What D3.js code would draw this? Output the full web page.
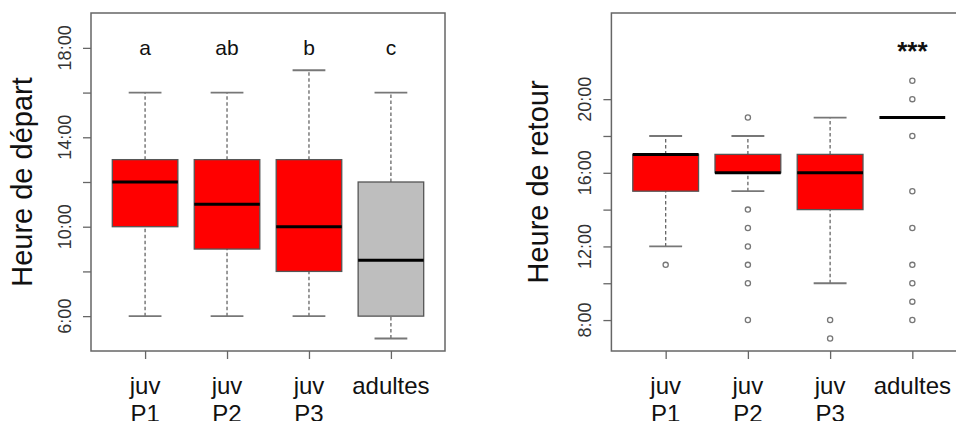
<!DOCTYPE html>
<html><head><meta charset="utf-8">
<script src="https://cdn.jsdelivr.net/npm/d3@7"></script>
<style>body{margin:0;background:#fff}svg{display:block}</style>
</head><body>
<svg id="c" width="956" height="421"></svg>
<script>
// ---- data ----
const categories = ["juv\nP1", "juv\nP2", "juv\nP3", "adultes"];
const fills = ["#FF0000", "#FF0000", "#FF0000", "#BEBEBE"];
// Heure de départ (hours): [lowWhisker, q1, median, q3, highWhisker]
const departStats = [[6, 10, 12, 13, 16], [6, 9, 11, 13, 16], [6, 8, 10, 13, 17], [5, 6, 8.5, 12, 16]];
const departOutliers = [[], [], [], []];
const departLetters = ["a", "ab", "b", "c"];
const departLim = [5, 19];
const departTicks = [6, 8, 10, 12, 14, 16, 18];
const departTickLabels = ["6:00", "", "10:00", "", "14:00", "", "18:00"];
// Heure de retour
const retourStats = [[12, 15, 17, 17, 18], [15, 16, 16, 17, 18], [10, 14, 16, 17, 19], [19, 19, 19, 19, 19]];
const retourOutliers = [[11], [19, 14, 13, 12, 11, 10, 8], [8, 7], [21, 20, 18, 15, 13, 11, 10, 9, 8]];
const retourLim = [7, 24];
const retourTicks = [8, 10, 12, 14, 16, 18, 20];
const retourTickLabels = ["8:00", "", "12:00", "", "16:00", "", "20:00"];
const retourSignif = "***";
const retourSignifY = 23;

const svg = d3.select("#c");
const font = "Arial, 'Liberation Sans', sans-serif";

function panel(opt) {
  const g = svg.append("g");
  const ext = (l) => { const r = (l[1] - l[0]) * 0.04; return [l[0] - r, l[1] + r]; };
  const y = d3.scaleLinear().domain(ext(opt.lim)).range([351, 13]);
  const x = d3.scaleLinear().domain([0.34, 4.66]).range([opt.x0, opt.x0 + (opt.x1 - opt.x0)]);
  const bw = 0.4, cw = 0.2;

  // y axis ticks
  const yAxis = d3.axisLeft(y).tickValues(opt.ticks).tickSize(8).tickFormat("");
  const ya = g.append("g").attr("transform", `translate(${opt.x0},0)`).call(yAxis);
  ya.select(".domain").remove();
  ya.selectAll("line").attr("stroke", "#666").attr("stroke-width", 1.3);
  // tick labels rotated
  g.selectAll(".ytl").data(opt.ticks.map((t, i) => [t, opt.tickLabels[i]]).filter(d => d[1]))
    .enter().append("text")
    .attr("transform", d => `translate(${opt.x0 - 20},${y(d[0])}) rotate(-90)`)
    .attr("text-anchor", "middle").attr("font-family", font).attr("font-size", 18)
    .attr("fill", "#333").text(d => d[1]);

  // x axis ticks
  const xAxis = d3.axisBottom(x).tickValues([1, 2, 3, 4]).tickSize(8).tickFormat("");
  const xa = g.append("g").attr("transform", `translate(0,351)`).call(xAxis);
  xa.select(".domain").remove();
  xa.selectAll("line").attr("stroke", "#666").attr("stroke-width", 1.3);
  categories.forEach((c, i) => {
    const lines = c.split("\n");
    const t = g.append("text").attr("x", x(i + 1)).attr("y", 394).attr("text-anchor", "middle")
      .attr("font-family", font).attr("font-size", 24).attr("fill", "#111");
    lines.forEach((l, k) => t.append("tspan").attr("x", x(i + 1)).attr("dy", k ? 28 : 0).text(l));
  });

  // y title
  g.append("text").attr("transform", `translate(${opt.titleX},182) rotate(-90)`)
    .attr("text-anchor", "middle").attr("font-family", font).attr("font-size", 29)
    .attr("fill", "#111").text(opt.title);

  // boxes
  opt.stats.forEach((s, i) => {
    const cx = x(i + 1);
    const bg = g.append("g");
    const hasSpread = s[0] !== s[4];
    if (hasSpread) {
      bg.append("line").attr("x1", cx).attr("x2", cx).attr("y1", y(s[0])).attr("y2", y(s[1]))
        .attr("stroke", "#666").attr("stroke-dasharray", "3.5,2.5").attr("stroke-width", 1.3);
      bg.append("line").attr("x1", cx).attr("x2", cx).attr("y1", y(s[3])).attr("y2", y(s[4]))
        .attr("stroke", "#666").attr("stroke-dasharray", "3.5,2.5").attr("stroke-width", 1.3);
      [s[0], s[4]].forEach(v => bg.append("line").attr("x1", x(i + 1 - cw)).attr("x2", x(i + 1 + cw))
        .attr("y1", y(v)).attr("y2", y(v)).attr("stroke", "#777").attr("stroke-width", 1.8));
    }
    if (s[1] !== s[3]) {
      bg.append("rect").attr("x", x(i + 1 - bw)).attr("width", x(i + 1 + bw) - x(i + 1 - bw))
        .attr("y", y(s[3])).attr("height", y(s[1]) - y(s[3]))
        .attr("fill", fills[i]).attr("stroke", "#555").attr("stroke-width", 1.3);
    }
    bg.append("line").attr("x1", x(i + 1 - bw)).attr("x2", x(i + 1 + bw))
      .attr("y1", y(s[2])).attr("y2", y(s[2])).attr("stroke", "#000").attr("stroke-width", 3);
    opt.outliers[i].forEach(v => bg.append("circle").attr("cx", cx).attr("cy", y(v)).attr("r", 2.6)
      .attr("fill", "none").attr("stroke", "#777").attr("stroke-width", 1.3));
  });

  if (opt.letters) {
    opt.letters.forEach((l, i) => g.append("text").attr("x", x(i + 1)).attr("y", y(18) + 7)
      .attr("text-anchor", "middle").attr("font-family", font).attr("font-size", 21)
      .attr("fill", "#111").text(l));
  }
  if (opt.signif) {
    g.append("text").attr("x", x(4)).attr("y", y(opt.signifY) + 16)
      .attr("text-anchor", "middle").attr("font-family", font).attr("font-size", 26)
      .attr("font-weight", "bold").attr("fill", "#111").text(opt.signif);
  }

  // frame
  g.append("rect").attr("x", opt.x0).attr("y", 13).attr("width", opt.x1 - opt.x0).attr("height", 338)
    .attr("fill", "none").attr("stroke", "#666").attr("stroke-width", 1.5);
}

panel({ x0: 91, x1: 445, lim: departLim, ticks: departTicks, tickLabels: departTickLabels,
  stats: departStats, outliers: departOutliers, letters: departLetters, title: "Heure de départ", titleX: 32 });
panel({ x0: 611.4, x1: 966.6, lim: retourLim, ticks: retourTicks, tickLabels: retourTickLabels,
  stats: retourStats, outliers: retourOutliers, signif: retourSignif, signifY: retourSignifY,
  title: "Heure de retour", titleX: 548 });
</script>
</body></html>
